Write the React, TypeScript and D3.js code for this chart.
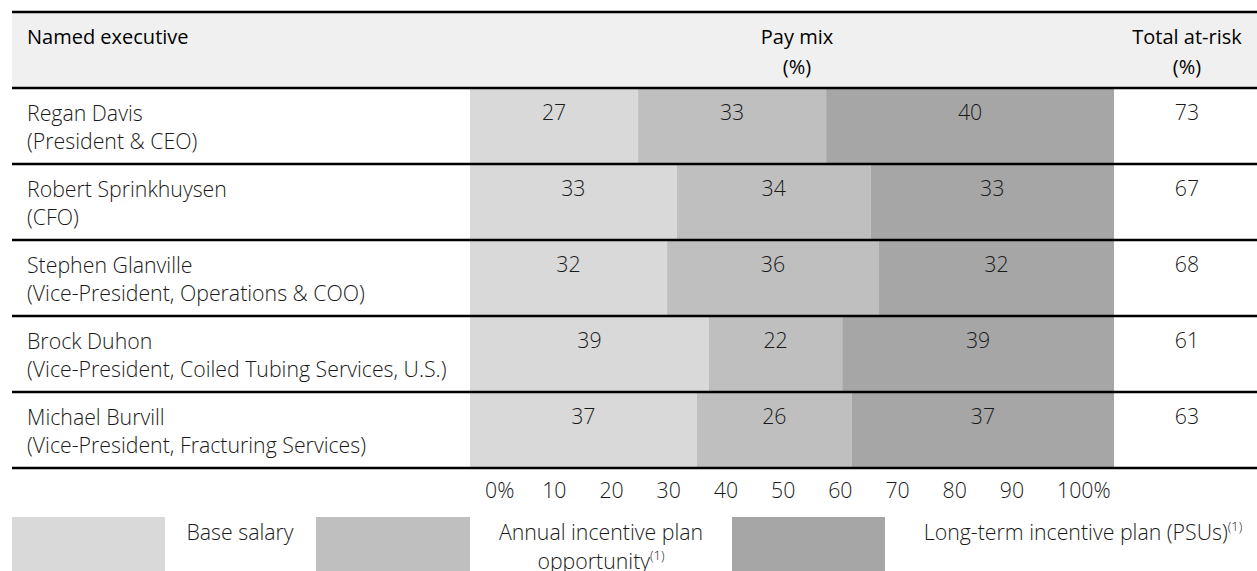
import React from "react";
import * as d3 from "d3";

const executives = ["Regan Davis", "Robert Sprinkhuysen", "Stephen Glanville", "Brock Duhon", "Michael Burvill"];
const titles = [
  "(President & CEO)",
  "(CFO)",
  "(Vice-President, Operations & COO)",
  "(Vice-President, Coiled Tubing Services, U.S.)",
  "(Vice-President, Fracturing Services)",
];
// labelled percentages
const baseLabel = [27, 33, 32, 39, 37];
const aipLabel = [33, 34, 36, 22, 26];
const ltipLabel = [40, 33, 32, 39, 37];
const totalAtRisk = [73, 67, 68, 61, 63];
// segment shares as drawn in the picture (percent of bar)
const baseShare = [26.1, 32.1, 30.6, 37.1, 35.2];
const aipShare = [29.2, 30.1, 32.9, 20.7, 24.1];
const ltipShare = [44.7, 37.8, 36.5, 42.2, 40.7];
const axisTicks = [0, 10, 20, 30, 40, 50, 60, 70, 80, 90, 100];
const seriesKeys = ["base", "aip", "ltip"];
const seriesColors = ["#d9d9d9", "#bfbfbf", "#a6a6a6"];

const W = 1257;
const H = 571;
const FONT = "'Open Sans', sans-serif";
const TXT = "#1a1a1a";
const BODY = 21.3;

export default function App() {
  const rows = executives.map((name, i) => ({
    name,
    title: titles[i],
    base: baseShare[i],
    aip: aipShare[i],
    ltip: ltipShare[i],
    labels: [baseLabel[i], aipLabel[i], ltipLabel[i]],
    total: totalAtRisk[i],
  }));
  const stacked = d3.stack<any>().keys(seriesKeys)(rows);

  const x = d3.scaleLinear().domain([0, 100]).range([470, 1114]);
  const y = d3.scaleBand<number>().domain(d3.range(rows.length)).range([88, 468]).padding(0);
  const axisX = d3.scaleLinear().domain([0, 100]).range([485, 1057]);
  const color = d3.scaleOrdinal<string, string>().domain(seriesKeys).range(seriesColors);
  const totalX = 1187;
  const lineX0 = 12;

  const lines = [12, ...rows.map((_, i) => y(i)!), 468];

  return (
    <svg
      width={W}
      height={H}
      style={{ position: "absolute", left: 0, top: 0, fontFamily: FONT }}
    >
      <rect x={0} y={0} width={W} height={H} fill="#ffffff" />
      {/* header */}
      <rect x={lineX0} y={12} width={W - lineX0} height={76} fill="#f0f0f0" />
      <g fill="#000" fontSize={20} fontWeight={400}>
        <text x={27} y={37} dy="0.35em">Named executive</text>
        <text x={797} y={37} dy="0.35em" textAnchor="middle">Pay mix</text>
        <text x={797} y={67} dy="0.35em" textAnchor="middle">(%)</text>
        <text x={totalX} y={37} dy="0.35em" textAnchor="middle">Total at-risk</text>
        <text x={totalX} y={67} dy="0.35em" textAnchor="middle">(%)</text>
      </g>

      {/* bars */}
      {stacked.map((layer) => (
        <g key={layer.key} fill={color(layer.key)}>
          {layer.map((d, i) => (
            <rect key={i} x={x(d[0])} y={y(i)} width={x(d[1]) - x(d[0])} height={y.bandwidth()} />
          ))}
        </g>
      ))}

      {/* bar labels */}
      <g fill={TXT} fontSize={BODY} fontWeight={300} textAnchor="middle">
        {stacked.map((layer, si) =>
          layer.map((d, i) => (
            <text key={`${si}-${i}`} x={(x(d[0]) + x(d[1])) / 2} y={y(i)! + 25} dy="0.35em">
              {rows[i].labels[si]}
            </text>
          ))
        )}
        {rows.map((r, i) => (
          <text key={`t${i}`} x={totalX} y={y(i)! + 25} dy="0.35em">
            {r.total}
          </text>
        ))}
      </g>

      {/* names */}
      <g fill={TXT} fontSize={BODY} fontWeight={300}>
        {rows.map((r, i) => (
          <g key={i}>
            <text x={27} y={y(i)! + 26} dy="0.35em">{r.name}</text>
            <text x={27} y={y(i)! + 54} dy="0.35em">{r.title}</text>
          </g>
        ))}
      </g>

      {/* rules */}
      {lines.map((ly, i) => (
        <line key={i} x1={lineX0} x2={W} y1={ly} y2={ly} stroke="#000" strokeWidth={2.5} />
      ))}

      {/* axis labels */}
      <g fill={TXT} fontSize={BODY} fontWeight={300}>
        {axisTicks.map((t, i) => (
          <text key={t} x={axisX(t)} y={491} dy="0.35em">
            {i === 0 || i === axisTicks.length - 1 ? `${t}%` : t}
          </text>
        ))}
      </g>

      {/* legend */}
      <rect x={12} y={517} width={153} height={60} fill={seriesColors[0]} />
      <rect x={316} y={517} width={154} height={60} fill={seriesColors[1]} />
      <rect x={732} y={517} width={153} height={60} fill={seriesColors[2]} />
      <g fill={TXT} fontSize={BODY} fontWeight={300} textAnchor="middle">
        <text x={240} y={533} dy="0.35em">Base salary</text>
        <text x={601} y={533} dy="0.35em">Annual incentive plan</text>
        <text x={601} y={562} dy="0.35em">
          opportunity<tspan fontSize={13} dy="-0.7em">(1)</tspan>
        </text>
        <text x={1083} y={533} dy="0.35em">
          Long-term incentive plan (PSUs)<tspan fontSize={13} dy="-0.7em">(1)</tspan>
        </text>
      </g>
    </svg>
  );
}
